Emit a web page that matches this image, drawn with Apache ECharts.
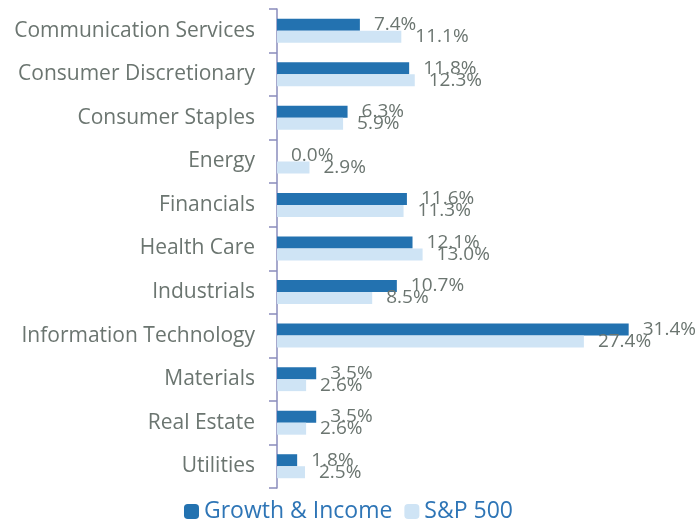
<!DOCTYPE html>
<html><head><meta charset="utf-8">
<script src="https://cdn.jsdelivr.net/npm/echarts@6/dist/echarts.min.js"></script>
<style>html,body{margin:0;padding:0;background:#fff}#c{width:697px;height:521px}</style>
</head><body><div id="c"></div>
<script>
const categories = ["Communication Services","Consumer Discretionary","Consumer Staples","Energy","Financials","Health Care","Industrials","Information Technology","Materials","Real Estate","Utilities"];
const growthIncome = [7.4,11.8,6.3,0.0,11.6,12.1,10.7,31.4,3.5,3.5,1.8];
const sp500 = [11.1,12.3,5.9,2.9,11.3,13.0,8.5,27.4,2.6,2.6,2.5];
const seriesNames = ["Growth & Income","S&P 500"];

const chart = echarts.init(document.getElementById('c'), null, {renderer:'canvas'});
const labelStyle = {show:true, position:'right', distance:14, color:'#6b7570', fontSize:19, fontFamily:'Open Sans',
  formatter: p => p.value.toFixed(1) + '%'};
chart.setOption({
  animation:false,
  grid:{left:277, top:9, width:392, height:479, containLabel:false},
  xAxis:{type:'value', min:0, max:35, show:false},
  yAxis:{type:'category', data:categories, inverse:true,
    axisLine:{lineStyle:{color:'#8a8cbc', width:1.5}},
    axisTick:{show:true, length:8, lineStyle:{color:'#8a8cbc', width:1.5}},
    axisLabel:{color:'#6b7570', fontSize:21, fontFamily:'Open Sans', margin:22},
  },
  legend:{bottom:-7, left:'center', itemWidth:15, itemHeight:15, itemGap:12,
    textStyle:{color:'#2e75b6', fontSize:23, fontFamily:'Open Sans'},
    data:seriesNames},
  series:[
    {name:seriesNames[0], type:'bar', data:growthIncome, barWidth:12, barGap:'0%',
     itemStyle:{color:'#2372b0'}, label:labelStyle},
    {name:seriesNames[1], type:'bar', data:sp500, barWidth:12, barGap:'0%',
     itemStyle:{color:'#cfe4f5'}, label:labelStyle}
  ]
});
</script></body></html>
